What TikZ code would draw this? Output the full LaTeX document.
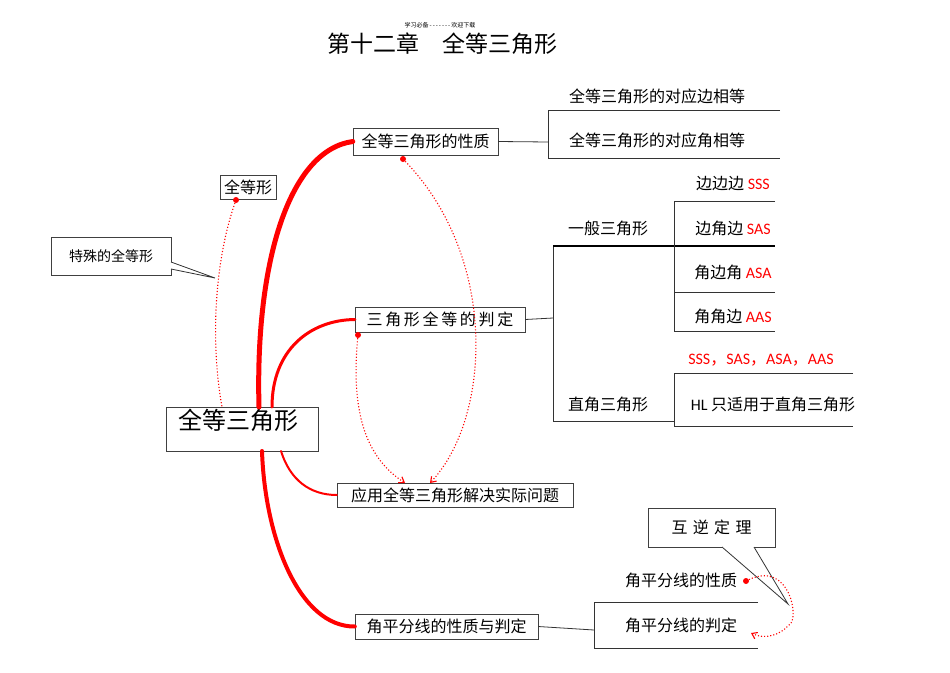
\documentclass[tikz,border=0pt]{standalone}
\usepackage{fontspec}
\setmainfont{Noto Sans CJK SC}
\newfontfamily\lat{Carlito}
\usetikzlibrary{arrows.meta}
\begin{document}
\begin{tikzpicture}[x=1pt,y=-1pt,
  bx/.style={draw=black!75,inner sep=1pt,font=\fontsize{16}{16}\selectfont,anchor=center},
  tx/.style={font=\fontsize{16}{16}\selectfont,inner sep=0pt},
  ln/.style={draw=black!80,line width=0.8pt},
  rc/.style={draw=red,line cap=round},
  dt/.style={draw=red,dotted,line width=1.1pt},
  dotpt/.style={circle,fill=red,inner sep=0pt,minimum size=6pt}]
\useasboundingbox (0,0) rectangle (950,672);
\node[font=\fontsize{6}{6}\selectfont] (hdr) at (440,25) {学习必备\,-\,-\,-\,-\,-\,-\,-\,欢迎下载};
\node[font=\fontsize{23}{23}\selectfont] (title) at (442,44) {第十二章\quad 全等三角形};
% main
\node[draw=black!75,minimum width=152pt,minimum height=44pt,inner sep=0pt] (main) at (242,429) {};
\node[font=\fontsize{24}{24}\selectfont] (maint) at (238,420) {全等三角形};
\node[bx,minimum width=56pt,minimum height=24pt] (qdx) at (248,187) {全等形};
\node[draw=black!75,minimum width=120pt,minimum height=38pt,font=\fontsize{14}{14}\selectfont] (tsq) at (111,256) {特殊的全等形\hspace{10pt}};
\coordinate (tp) at (215,278);
\draw[ln,fill=white] (171,262) -- (tp) -- (171,269);
\node[bx,minimum width=145pt,minimum height=27pt] (xz) at (425.5,141.5) {全等三角形的性质};
\node[bx,minimum width=170pt,minimum height=25pt] (pd) at (440,319.5) {三\,角\,形\,全\,等\,的\,判\,定};
\node[bx,minimum width=236pt,minimum height=24pt] (yy) at (455,495) {应用全等三角形解决实际问题};
\node[bx,minimum width=183pt,minimum height=25pt] (jp) at (446.5,626.5) {角平分线的性质与判定};
% red curves
\draw[rc,line width=5pt] (259,407) .. controls (255,260) and (290,150) .. (xz.west);
\draw[rc,line width=3pt] (272,407) .. controls (272,350) and (310,320) .. (pd.west);
\draw[rc,line width=2pt] (281,451) .. controls (290,480) and (310,495) .. (yy.west);
\draw[rc,line width=4pt] (262,451) .. controls (265,540) and (300,627) .. (jp.west);
% property
\draw[ln] (xz.east) -- (548,142);
\draw[ln] (780,110) -- (548,110) -- (548,158) -- (780,158);
\node[tx] (p1) at (657,96) {全等三角形的对应边相等};
\node[tx] (p2) at (657,140) {全等三角形的对应角相等};
% judgement
\draw[ln] (pd.east) -- (553,318);
\draw[ln] (674,421) -- (553,421) -- (553,246);
\draw[draw=black,line width=1.3pt] (553,246) -- (775,246);
\draw[ln] (775,201) -- (674,201) -- (674,331) -- (775,331);
\draw[ln] (674,292) -- (775,292);
\node[tx] (g1) at (608,228) {一般三角形};
\node[tx] (g2) at (608,404) {直角三角形};
\node[tx] (s1) at (733,184) {边边边 \textcolor{red}{\lat SSS}};
\node[tx] (s2) at (733,228) {边角边 \textcolor{red}{\lat SAS}};
\node[tx] (s3) at (733,272) {角边角 \textcolor{red}{\lat ASA}};
\node[tx] (s4) at (733,316) {角角边 \textcolor{red}{\lat AAS}};
\draw[ln] (853,373) -- (674,373) -- (674,426) -- (853,426);
\node[tx,text=red] (r1) at (761,360) {{\lat SSS}，{\lat SAS}，{\lat ASA}，{\lat AAS}};
\node[tx] (r2) at (773,404) {{\lat HL} 只适用于直角三角形};
% bisector
\draw[ln] (jp.east) -- (594,630);
\draw[ln] (758,602) -- (594,602) -- (594,648) -- (758,648);
\node[tx] (b1) at (681,580) {角平分线的性质};
\node[tx] (b2) at (681,625) {角平分线的判定};
\node[draw=black!75,minimum width=127pt,minimum height=39pt,font=\fontsize{16}{16}\selectfont] (hn) at (711.5,527.5) {互\,\,逆\,\,定\,\,理};
\coordinate (hp) at (788,604);
\draw[ln,fill=white] (722,547) -- (hp) -- (754,547);
% dotted
\node[dotpt] (d1) at (236,200) {};
\draw[dt] (d1) .. controls (215,260) and (210,340) .. (222,407);
\node[dotpt] (d2) at (403,159) {};
\draw[dt,-{Straight Barb[length=5pt,width=7pt]}] (d2) .. controls (500,260) and (490,420) .. (430,483);
\node[dotpt] (d3) at (358,335) {};
\draw[dt,-{Straight Barb[length=5pt,width=7pt]}] (d3) .. controls (350,420) and (370,460) .. (405,483);
\node[dotpt] (d4) at (746,581) {};
\draw[dt,-{Straight Barb[length=5pt,width=7pt]}] (d4) .. controls (790,560) and (800,620) .. (789,625) .. controls (780,635) and (765,640) .. (751,633);
\end{tikzpicture}
\end{document}
